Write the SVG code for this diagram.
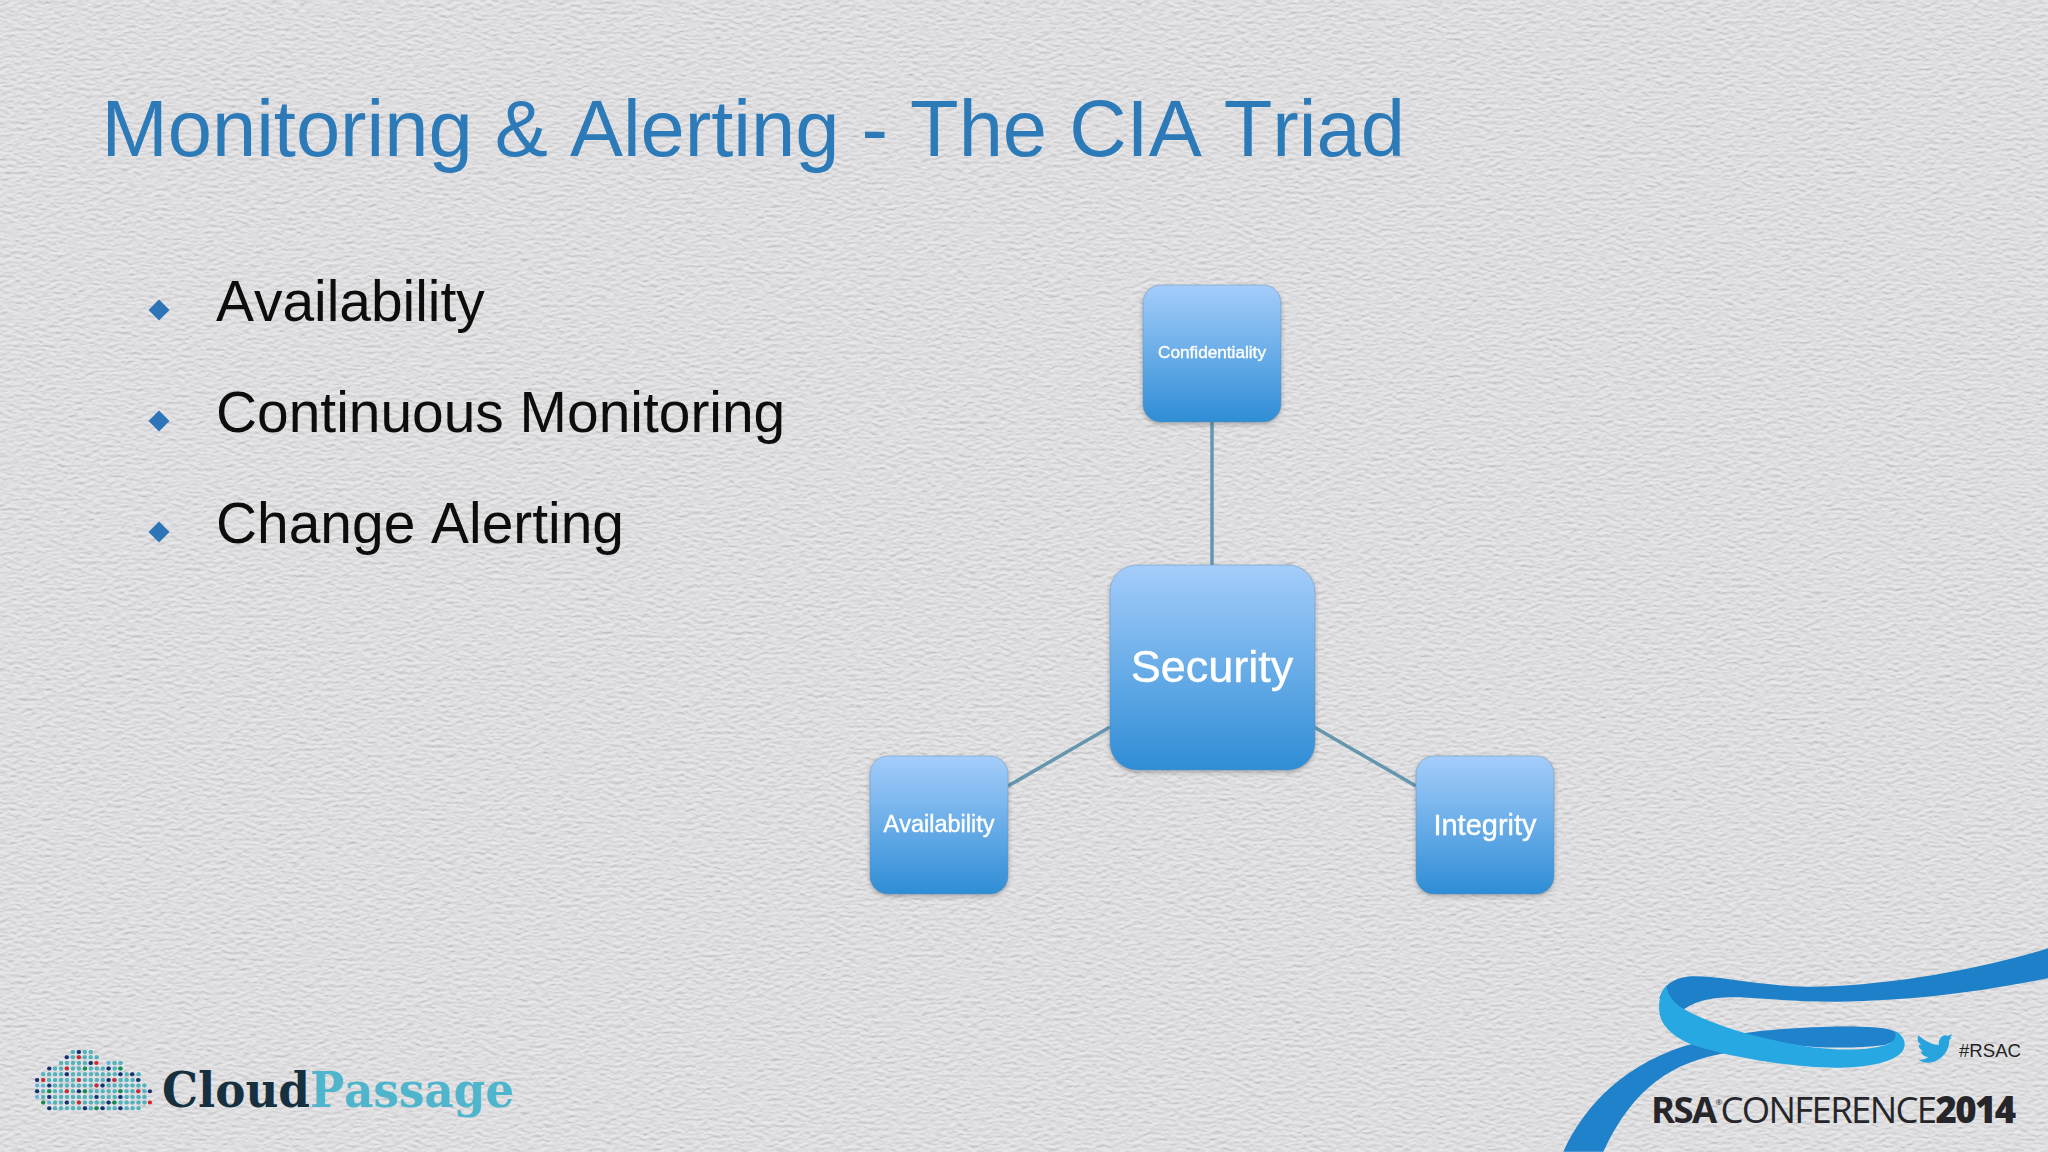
<svg xmlns="http://www.w3.org/2000/svg" width="2048" height="1152" viewBox="0 0 2048 1152">
<style>
text{font-family:"Liberation Sans",Arial,sans-serif;font-kerning:none}
.b{font-size:56.900px;fill:#0d0d0d}
.n{fill:url(#g);stroke:#5d8fb5;stroke-opacity:.45;stroke-width:1;filter:url(#s)}
.l{fill:#fff;stroke:#fff;stroke-width:.4;text-anchor:middle;filter:url(#t)}
.c{stroke:#6596ae;stroke-width:3.500;fill:none}
.d{fill:#2e75b8}
.r{fill:none;stroke-linecap:round;stroke-width:12;stroke-dasharray:0 16.7}
.w{fill:#1f2f6e}.e{fill:#d8262f}.f{fill:#1f8a46}
</style>
<defs>
<linearGradient id="g" x1="0" y1="0" x2="0" y2="1"><stop offset="0" stop-color="#a4cdfb"/><stop offset="1" stop-color="#2f8dd5"/></linearGradient>
<filter id="p" x="0" y="0" width="100%" height="100%"><feTurbulence type="fractalNoise" baseFrequency="0.14 0.3" numOctaves="3" seed="4" result="n"/><feDiffuseLighting in="n" surfaceScale="0.9" diffuseConstant="1.1" lighting-color="#e1e1e3"><feDistantLight azimuth="90" elevation="62"/></feDiffuseLighting></filter>
<filter id="s" x="-10%" y="-10%" width="120%" height="125%"><feDropShadow dx="0" dy="2" stdDeviation="2" flood-color="#333" flood-opacity=".35"/></filter>
<filter id="t" x="-10%" y="-20%" width="120%" height="140%"><feGaussianBlur stdDeviation=".6"/></filter>
<filter id="q" x="-5%" y="-5%" width="110%" height="110%"><feGaussianBlur stdDeviation=".25"/></filter>
</defs>
<rect id="background" width="2048" height="1152" fill="#dfdfe3" filter="url(#p)"/>
<text id="title" x="101.500" y="156" font-size="79.500" fill="#2d7ab9">Monitoring &amp; Alerting - The CIA Triad</text>
<g id="bullets">
<path class="d" d="M159 299.500l10.500 10.500-10.500 10.500-10.500-10.500z"/><text class="b" x="216" y="321">Availability</text>
<path class="d" d="M159 410.500l10.500 10.500-10.500 10.500-10.500-10.500z"/><text class="b" x="216" y="432">Continuous Monitoring</text>
<path class="d" d="M159 521.500l10.500 10.500-10.500 10.500-10.500-10.500z"/><text class="b" x="216" y="543">Change Alerting</text>
</g>
<g id="connectors">
<path class="c" d="M1212 422V566"/>
<path class="c" d="M1110 727L1008 786"/>
<path class="c" d="M1314 727L1416 786"/>
</g>
<g id="node-confidentiality"><rect class="n" x="1143" y="285" width="138" height="137" rx="18"/><text class="l" x="1212" y="358" font-size="17.200">Confidentiality</text></g>
<g id="node-security"><rect class="n" x="1110" y="565" width="205" height="205" rx="27"/><text class="l" x="1212" y="682" font-size="45">Security</text></g>
<g id="node-availability"><rect class="n" x="870" y="756" width="138" height="138" rx="18"/><text class="l" x="939" y="832" font-size="23.500">Availability</text></g>
<g id="node-integrity"><rect class="n" x="1416" y="756" width="138" height="138" rx="18"/><text class="l" x="1485" y="835" font-size="29">Integrity</text></g>
<g id="cloudpassage-logo">
<g transform="translate(0 1000) scale(.357 .333)" filter="url(#q)">
<path class="r" stroke="#62b2e2" d="M204 156H255M187 172H271M171 189H271M304 189H338M138 206H354M121 223H404M104 240H404M104 257H421M104 274H421M104 291H421M121 308H421M138 325H404"/>
<path class="r" stroke="#52b3b8" stroke-dasharray="0 50.100" d="M204 156H255M204 172H271M171 189H271M321 189H338M154 206H354M121 223H404M121 240H404M154 257H421M104 274H421M121 291H421M154 308H421M154 325H404"/>
<g>
<circle class="w" cx="221" cy="156" r="6"/><circle class="w" cx="187" cy="172" r="6"/><circle class="w" cx="254" cy="189" r="6"/><circle class="w" cx="138" cy="206" r="6"/><circle class="w" cx="304" cy="206" r="6"/><circle class="w" cx="187" cy="223" r="6"/><circle class="w" cx="337" cy="223" r="6"/><circle class="w" cx="370" cy="223" r="6"/><circle class="w" cx="104" cy="240" r="6"/><circle class="w" cx="304" cy="240" r="6"/><circle class="w" cx="387" cy="240" r="6"/><circle class="w" cx="138" cy="257" r="6"/><circle class="w" cx="287" cy="257" r="6"/><circle class="w" cx="104" cy="274" r="6"/><circle class="w" cx="221" cy="274" r="6"/><circle class="w" cx="420" cy="274" r="6"/><circle class="w" cx="138" cy="291" r="6"/><circle class="w" cx="270" cy="291" r="6"/><circle class="w" cx="337" cy="291" r="6"/><circle class="w" cx="187" cy="308" r="6"/><circle class="w" cx="304" cy="308" r="6"/><circle class="w" cx="138" cy="325" r="6"/><circle class="w" cx="238" cy="325" r="6"/><circle class="w" cx="287" cy="325" r="6"/><circle class="w" cx="337" cy="325" r="6"/>
<circle class="e" cx="221" cy="172" r="6"/><circle class="e" cx="270" cy="189" r="6"/><circle class="e" cx="187" cy="206" r="6"/><circle class="e" cx="121" cy="240" r="6"/><circle class="e" cx="221" cy="240" r="6"/><circle class="e" cx="320" cy="240" r="6"/><circle class="e" cx="270" cy="257" r="6"/><circle class="e" cx="187" cy="274" r="6"/><circle class="e" cx="387" cy="274" r="6"/><circle class="e" cx="221" cy="308" r="6"/><circle class="e" cx="420" cy="308" r="6"/>
<circle class="f" cx="238" cy="206" r="6"/><circle class="f" cx="337" cy="206" r="6"/><circle class="f" cx="138" cy="274" r="6"/><circle class="f" cx="238" cy="274" r="6"/><circle class="f" cx="337" cy="274" r="6"/><circle class="f" cx="121" cy="308" r="6"/><circle class="f" cx="320" cy="308" r="6"/><circle class="f" cx="270" cy="325" r="6"/>
</g>
</g>
<text x="162" y="1107" font-weight="700" font-size="49" textLength="352" lengthAdjust="spacingAndGlyphs" style="font-family:'DejaVu Serif',serif"><tspan fill="#17303f">Cloud</tspan><tspan fill="#4fb5cc">Passage</tspan></text>
</g>
<g id="rsa-logo">
<g transform="translate(1540 930) scale(.33333)">
<path fill="#1f82cb" d="M70 665C130 530 260 390 470 338L560 368C400 395 280 470 190 665Z"/>
<path fill="#1e80c8" d="M1524 55C1300 125 1000 172 800 170C650 168 520 132 440 140C400 146 370 165 358 205L432 238C465 215 510 200 600 202C700 208 800 216 900 215C1100 212 1300 190 1524 145Z"/>
<path fill="#1f82cb" d="M610 310C700 295 900 285 1000 292C1045 295 1070 300 1085 325L1035 345C950 355 850 355 780 347L610 320Z"/>
<path fill="#27a8e3" d="M380 165C362 185 355 215 358 245C362 295 420 335 480 352C600 388 780 415 900 413C1000 412 1092 390 1094 345C1095 325 1080 308 1062 302C1075 320 1060 340 1030 347C950 367 830 362 700 330C600 310 490 270 432 238C405 222 380 195 380 165Z"/>
<path fill="#27a3dd" d="M1135 316C1160 338 1180 345 1197 345C1193 325 1212 310 1222 318L1237 312L1229 323L1236 322L1228 330C1228 370 1195 398 1165 398C1155 398 1143 395 1135 390C1148 390 1158 387 1165 381C1152 380 1145 372 1142 365L1150 364C1140 360 1136 350 1136 345L1144 346C1133 338 1131 326 1135 316Z"/>
</g>
<text x="1959" y="1057" font-size="18.600" fill="#222">#RSAC</text>
<text x="1651" y="1122.500" font-size="36.500" fill="#26262a" letter-spacing="-1.650" style="font-family:'Open Sans','Noto Sans',sans-serif"><tspan font-weight="700">RSA</tspan><tspan font-size="8" dy="-18">®</tspan><tspan font-weight="400" dy="18">CONFERENCE</tspan><tspan font-weight="800">2014</tspan></text>
</g>
</svg>
